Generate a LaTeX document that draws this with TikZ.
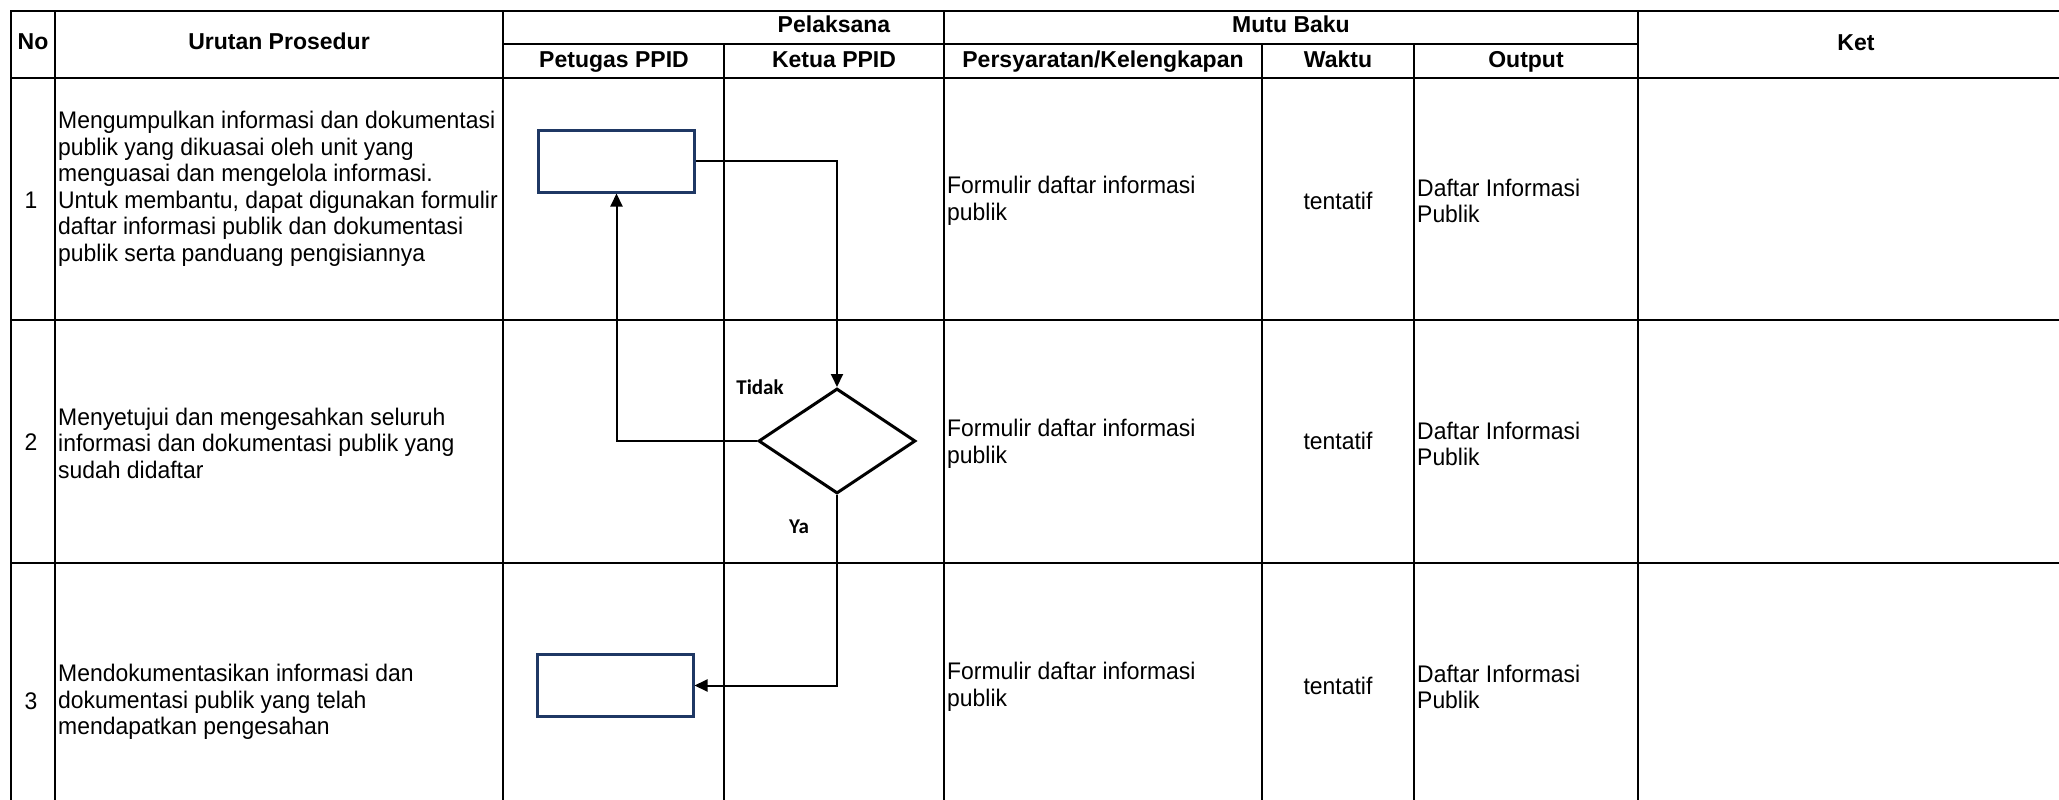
\documentclass[tikz,border=0pt]{standalone}
\usepackage{fontspec}
\setmainfont{Liberation Sans}
\newfontfamily\bodyfont[FakeStretch=0.955]{Liberation Sans}
\newfontfamily\lblfont{Carlito}
\usetikzlibrary{shapes.geometric,arrows.meta}
\definecolor{navy}{RGB}{31,56,100}
\begin{document}
\begin{tikzpicture}[x=1pt,y=-1pt,
  gridline/.style={line width=2.6pt,line cap=rect},
  hdr/.style={font=\fontsize{23}{26}\selectfont\bfseries,inner sep=0,text height=16.5pt,text depth=4.5pt},
  body/.style={font=\bodyfont\fontsize{24}{26.5}\selectfont,inner sep=0,align=left,anchor=west},
  cbody/.style={font=\bodyfont\fontsize{24}{26.5}\selectfont,inner sep=0,align=center},
  proc/.style={draw=navy,line width=3pt,minimum width=156pt,minimum height=62pt,inner sep=0},
  dec/.style={diamond,draw,line width=3pt,minimum width=157pt,minimum height=105pt,inner sep=0},
  conn/.style={line width=2pt,-{Triangle[length=13pt,width=12pt]}},
  lbl/.style={font=\lblfont\fontsize{21}{24}\selectfont\bfseries,inner sep=0}]
\useasboundingbox (0,0) rectangle (2059,800);
% grid
\draw[gridline] (11,11) -- (2059,11);
\draw[gridline] (503,44) -- (1638,44);
\draw[gridline] (11,78) -- (2059,78);
\draw[gridline] (11,320) -- (2059,320);
\draw[gridline] (11,563) -- (2059,563);
\draw[gridline] (11,11) -- (11,800);
\draw[gridline] (55,11) -- (55,800);
\draw[gridline] (503,11) -- (503,800);
\draw[gridline] (944,11) -- (944,800);
\draw[gridline] (1638,11) -- (1638,800);
\draw[gridline] (724,44) -- (724,800);
\draw[gridline] (1262,44) -- (1262,800);
\draw[gridline] (1414,44) -- (1414,800);
% headers
\node[hdr] (hno) at (33,44) {No};
\node[hdr] (hur) at (279,44) {Urutan Prosedur};
\node[hdr] (hpel) at (834,27) {Pelaksana};
\node[hdr] (hmutu) at (1291,27) {Mutu Baku};
\node[hdr] (hket) at (1856,45) {Ket};
\node[hdr] (hpet) at (614,61) {Petugas PPID};
\node[hdr] (hketua) at (834,61) {Ketua PPID};
\node[hdr] (hpers) at (1103,61) {Persyaratan/Kelengkapan};
\node[hdr] (hwak) at (1338,61) {Waktu};
\node[hdr] (hout) at (1526,61) {Output};
% row numbers
\node[cbody] (n1) at (31,200) {1};
\node[cbody] (n2) at (31,442) {2};
\node[cbody] (n3) at (31,701) {3};
% procedures
\node[body] (u1) at (58,189) {Mengumpulkan informasi dan dokumentasi\\publik yang dikuasai oleh unit yang\\menguasai dan mengelola informasi.\\Untuk membantu, dapat digunakan formulir\\daftar informasi publik dan dokumentasi\\publik serta panduang pengisiannya};
\node[body] (u2) at (58,443) {Menyetujui dan mengesahkan seluruh\\informasi dan dokumentasi publik yang\\sudah didaftar};
\node[body] (u3) at (58,702) {Mendokumentasikan informasi dan\\dokumentasi publik yang telah\\mendapatkan pengesahan};
% persyaratan
\node[body] (p1) at (947,201) {Formulir daftar informasi\\publik};
\node[body] (p2) at (947,444) {Formulir daftar informasi\\publik};
\node[body] (p3) at (947,687) {Formulir daftar informasi\\publik};
% waktu
\node[cbody] (w1) at (1338,201) {tentatif};
\node[cbody] (w2) at (1338,441) {tentatif};
\node[cbody] (w3) at (1338,686) {tentatif};
% output
\node[body] (o1) at (1417,201) {Daftar Informasi\\Publik};
\node[body] (o2) at (1417,444) {Daftar Informasi\\Publik};
\node[body] (o3) at (1417,687) {Daftar Informasi\\Publik};
% flowchart
\node[proc] (r1) at (616.5,161) {};
\node[dec] (d) at (837,441) {};
\node[proc] (r3) at (615,685.5) {};
\draw[conn] (r1.east) -| (d.north);
\draw[conn] (d.west) -| (r1.south);
\draw[conn] (d.south) |- (r3.east);
\node[lbl] (tidak) at (760,387) {Tidak};
\node[lbl] (ya) at (799,527) {Ya};
\end{tikzpicture}
\end{document}
